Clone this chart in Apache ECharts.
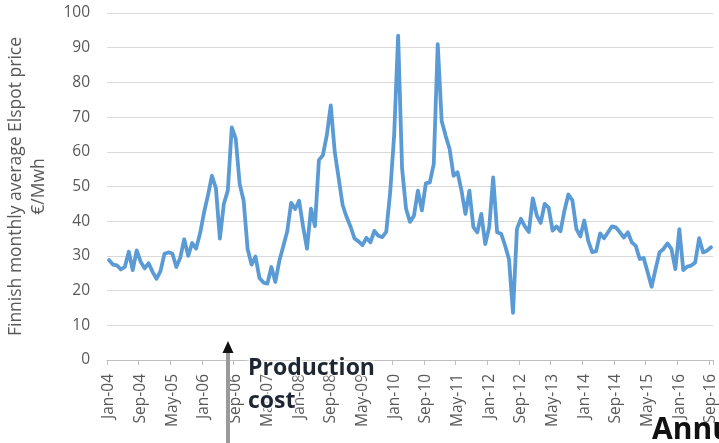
<!DOCTYPE html>
<html>
<head>
<meta charset="utf-8">
<script src="https://cdn.jsdelivr.net/npm/echarts@6/dist/echarts.min.js"></script>
<style>
  html, body { margin: 0; padding: 0; background: #fff; }
  #chart { width: 719px; height: 443px; }
</style>
</head>
<body>
<div id="chart"></div>
<script>
// Finnish monthly average Elspot price, Jan 2004 - Sep 2016 (EUR/MWh)
const monthNames = ['Jan','Feb','Mar','Apr','May','Jun','Jul','Aug','Sep','Oct','Nov','Dec'];
const firstYear = 2004;
const lastYear = 2016;
const lastMonthOfLastYear = 9;

const prices = [
  28.8, 27.5, 27.3, 26.1, 26.8, 31.2, 25.9, 31.6, 28.3, 26.4, 27.9, 25.4,   // 2004
  23.4, 25.6, 30.6, 31.0, 30.7, 26.8, 29.5, 34.8, 30.0, 33.7, 32.1, 36.5,   // 2005
  42.5, 47.5, 53.1, 49.5, 35.0, 45.0, 48.8, 67.0, 63.8, 50.7, 45.9, 32.0,   // 2006
  27.5, 29.8, 23.6, 22.3, 22.0, 26.8, 22.5, 28.5, 32.8, 37.0, 45.3, 43.5,   // 2007
  45.9, 38.5, 32.1, 43.6, 38.6, 57.6, 59.0, 64.8, 73.4, 60.0, 52.3, 44.6,   // 2008
  41.2, 38.4, 35.0, 34.2, 33.1, 35.2, 33.9, 37.2, 35.8, 35.4, 36.9, 48.4,   // 2009
  64.8, 93.5, 55.2, 43.6, 39.8, 41.6, 48.8, 43.1, 50.9, 51.2, 56.5, 91.0,   // 2010
  68.9, 64.6, 60.8, 53.1, 54.1, 48.8, 42.1, 48.8, 38.3, 36.8, 42.1, 33.4,   // 2011
  38.3, 52.6, 36.8, 36.4, 33.0, 29.0, 13.6, 37.8, 40.7, 38.5, 36.9, 46.6,   // 2012
  41.7, 39.5, 45.0, 43.9, 37.3, 38.5, 37.1, 43.1, 47.7, 46.0, 37.8, 35.6,   // 2013
  40.2, 34.3, 31.1, 31.4, 36.5, 35.1, 36.8, 38.5, 38.2, 36.8, 35.3, 36.8,   // 2014
  33.9, 32.9, 29.1, 29.4, 25.3, 21.1, 26.2, 31.0, 32.0, 33.6, 32.0, 26.2,   // 2015
  37.7, 25.9, 26.9, 27.2, 28.1, 35.1, 31.0, 31.5, 32.5                      // 2016
];

const yTicks = [0, 10, 20, 30, 40, 50, 60, 70, 80, 90, 100];
const yAxisTitle = 'Finnish monthly average Elspot price\n€/Mwh';
const annotationWord1 = 'Production';
const annotationWord2 = 'cost';
const annotationCorner = 'Annu';

// category labels such as "Jan-04"
const months = [];
for (let y = firstYear; y <= lastYear; y++) {
  const endMonth = (y === lastYear) ? lastMonthOfLastYear : 12;
  for (let m = 0; m < endMonth; m++) {
    months.push(monthNames[m] + '-' + String(y).slice(2));
  }
}

const FONT = '"Open Sans", Lato, sans-serif';
const GREY_TEXT = '#595959';
const GRID_LINE = '#D9D9D9';

const chart = echarts.init(document.getElementById('chart'), null, { renderer: 'canvas' });

const haloText = {
  textShadowColor: 'rgba(255,255,255,0.95)',
  textShadowBlur: 5,
  stroke: 'rgba(255,255,255,0.85)',
  lineWidth: 2
};

chart.setOption({
  animation: false,
  backgroundColor: '#ffffff',
  grid: {
    left: 107, right: 6, top: 13, bottom: 83,
    containLabel: false,
    outerBoundsMode: 'none'
  },
  xAxis: {
    type: 'category',
    data: months,
    boundaryGap: true,
    axisLine: { show: true, lineStyle: { color: '#BFBFBF', width: 1 } },
    axisTick: { show: true, interval: 7, length: 5, lineStyle: { color: '#BFBFBF' } },
    axisLabel: {
      interval: 7,
      rotate: 90,
      margin: 14,
      padding: [0, 0, 6, 0],
      color: GREY_TEXT,
      fontFamily: FONT,
      fontSize: 15.5
    },
    splitLine: { show: false }
  },
  yAxis: {
    type: 'value',
    min: yTicks[0],
    max: yTicks[yTicks.length - 1],
    interval: 10,
    name: yAxisTitle,
    nameLocation: 'middle',
    nameRotate: 90,
    nameGap: 56,
    nameTextStyle: {
      color: GREY_TEXT,
      fontFamily: FONT,
      fontSize: 17.5,
      lineHeight: 23,
      align: 'center'
    },
    axisLine: { show: false },
    axisTick: { show: false },
    axisLabel: {
      margin: 17,
      color: GREY_TEXT,
      fontFamily: FONT,
      fontSize: 15.5
    },
    splitLine: { show: true, lineStyle: { color: GRID_LINE, width: 1 } }
  },
  series: [{
    type: 'line',
    data: prices,
    showSymbol: false,
    symbol: 'none',
    smooth: false,
    lineStyle: { color: '#5B9BD5', width: 3.8, join: 'round', cap: 'round' },
    z: 3
  }],
  graphic: [
    // arrow pointing up from below the axis
    {
      type: 'rect',
      shape: { x: 226, y: 350, width: 4, height: 100 },
      style: { fill: '#9A9A9A' },
      z: 20
    },
    {
      type: 'polygon',
      shape: { points: [[228, 341], [222.5, 353], [233.5, 353]] },
      style: { fill: '#111111' },
      z: 21
    },
    {
      type: 'text',
      x: 248,
      y: 368,
      style: Object.assign({
        text: annotationWord1,
        font: 'bold 23px ' + FONT,
        fill: '#1F2633',
        verticalAlign: 'middle'
      }, haloText),
      z: 22
    },
    {
      type: 'text',
      x: 248,
      y: 401,
      style: Object.assign({
        text: annotationWord2,
        font: 'bold 23px ' + FONT,
        fill: '#1F2633',
        verticalAlign: 'middle'
      }, haloText),
      z: 22
    },
    {
      type: 'text',
      x: 652,
      y: 430,
      style: {
        text: annotationCorner,
        font: 'bold 30px ' + FONT,
        fill: '#111111',
        verticalAlign: 'middle',
        textShadowColor: 'rgba(255,255,255,0.95)',
        textShadowBlur: 4
      },
      z: 22
    }
  ]
});
</script>
</body>
</html>
